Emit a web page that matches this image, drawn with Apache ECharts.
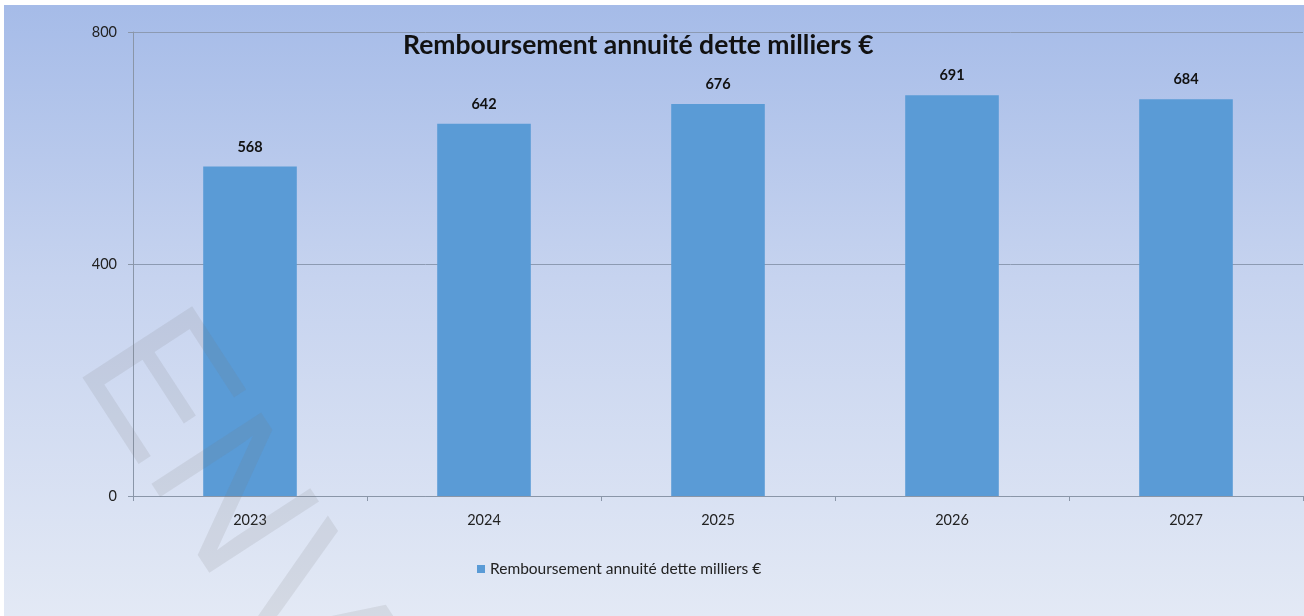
<!DOCTYPE html>
<html>
<head>
<meta charset="utf-8">
<script src="https://cdn.jsdelivr.net/npm/echarts@6/dist/echarts.min.js"></script>
<style>
  html, body { margin: 0; padding: 0; background: #ffffff; }
  #chart { width: 1304px; height: 616px; }
</style>
</head>
<body>
<div id="chart"></div>
<script>
// data
var years = ['2023', '2024', '2025', '2026', '2027'];
var annuite = [568, 642, 676, 691, 684];
var yTicks = [0, 400, 800];
var seriesName = 'Remboursement annuité dette milliers €';

var chart = echarts.init(document.getElementById('chart'));
var option = {
    backgroundColor: {
        type: 'linear', x: 0, y: 0, x2: 0, y2: 1,
        colorStops: [
            {offset: 0, color: '#a5bbe8'},
            {offset: 0.45, color: '#c6d3ef'},
            {offset: 1, color: '#e3e9f5'}
        ]
    },
    textStyle: {fontFamily: 'Lato'},
    title: {
        text: seriesName,
        left: 398,
        top: 27,
        textStyle: {fontFamily: 'Lato', fontSize: 26.5, fontWeight: 'bold', color: '#111'}
    },
    legend: {
        data: [seriesName],
        left: 472,
        top: 556,
        itemWidth: 8,
        itemHeight: 8,
        itemGap: 5,
        icon: 'rect',
        textStyle: {fontFamily: 'Lato', fontSize: 15.5, color: '#222'}
    },
    grid: {left: 133, right: 1, top: 32, bottom: 120},
    xAxis: {
        type: 'category',
        data: years,
        axisLine: {lineStyle: {color: '#8a96a8', width: 1}},
        axisTick: {show: true, alignWithLabel: false, length: 5, lineStyle: {color: '#8a96a8'}},
        axisLabel: {fontFamily: 'Lato', fontSize: 14.5, color: '#222', margin: 17}
    },
    yAxis: {
        type: 'value',
        min: yTicks[0],
        max: yTicks[yTicks.length - 1],
        interval: yTicks[1] - yTicks[0],
        axisLine: {show: true, lineStyle: {color: '#8a96a8', width: 1}},
        axisTick: {show: true, length: 5, lineStyle: {color: '#8a96a8'}},
        axisLabel: {fontFamily: 'Lato', fontSize: 14.5, color: '#222', margin: 16},
        splitLine: {lineStyle: {color: '#8c9ab2', width: 1}}
    },
    series: [{
        name: seriesName,
        type: 'bar',
        data: annuite,
        barWidth: '40%',
        itemStyle: {color: '#5a9bd6'},
        label: {
            show: true,
            position: 'top',
            distance: 12,
            fontFamily: 'Lato',
            fontSize: 14.5,
            fontWeight: 'bold',
            color: '#111'
        }
    }],
    graphic: [
        // white frame edges
        {type: 'rect', left: 0, top: 0, shape: {width: 1304, height: 5}, style: {fill: '#ffffff'}, z: 100},
        {type: 'rect', left: 0, top: 0, shape: {width: 4, height: 616}, style: {fill: '#ffffff'}, z: 100},
        // watermark
        {
            type: 'text',
            x: 118, y: 336,
            rotation: -57 * Math.PI / 180,
            silent: true,
            z: 90,
            style: {
                text: 'ENVOYÉ EN PRÉFECTURE',
                font: '190px "Liberation Sans"',
                fill: 'rgba(120,120,120,0.14)',
                textAlign: 'left',
                textVerticalAlign: 'middle'
            }
        }
    ]
};
chart.setOption(option);
</script>
</body>
</html>
